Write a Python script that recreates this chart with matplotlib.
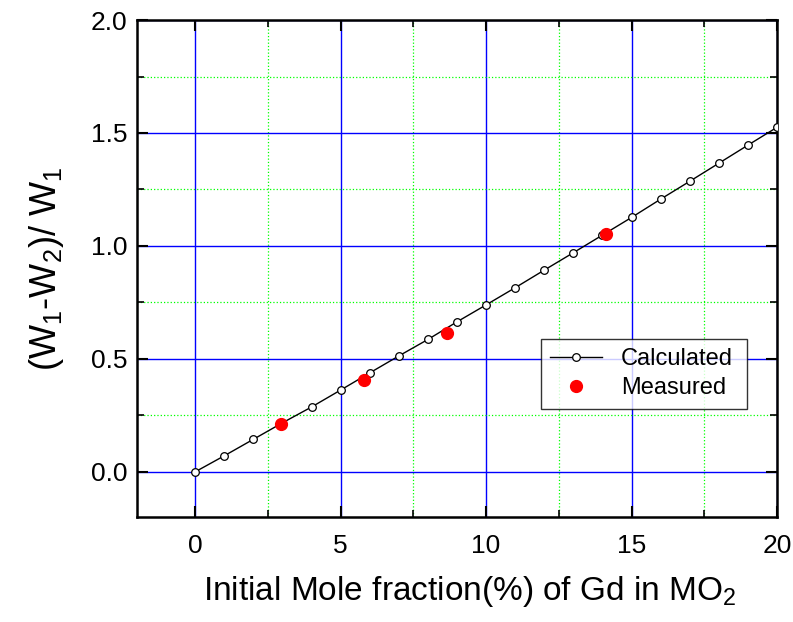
import matplotlib
matplotlib.use('Agg')
import matplotlib.pyplot as plt
from matplotlib.ticker import MultipleLocator

plt.rcParams['font.family'] = ['Liberation Sans', 'DejaVu Sans']
plt.rcParams['mathtext.fontset'] = 'custom'
plt.rcParams['mathtext.rm'] = 'Liberation Sans'
plt.rcParams['mathtext.it'] = 'Liberation Sans'

# calculated curve (integer mole fractions)
calc_x = [0, 1, 2, 3, 4, 5, 6, 7, 8, 9, 10, 11, 12, 13, 14, 15, 16, 17, 18, 19, 20]
calc_y = [0.0, 0.071, 0.144, 0.217, 0.287, 0.362, 0.438, 0.513, 0.586, 0.664, 0.739,
          0.815, 0.893, 0.970, 1.048, 1.126, 1.207, 1.286, 1.366, 1.446, 1.525]

# measured points
meas_x = [2.94, 5.81, 8.64, 14.12]
meas_y = [0.211, 0.408, 0.615, 1.054]

fig = plt.figure(figsize=(7.93, 6.22), dpi=100)
ax = fig.add_axes([0.1728, 0.1688, 0.807, 0.799])

ax.plot(calc_x, calc_y, color='black', lw=1, marker='o', markersize=5.5,
        markerfacecolor='white', markeredgecolor='black', markeredgewidth=0.9,
        label='Calculated', zorder=3)
ax.plot(meas_x, meas_y, ls='none', marker='o', markersize=8.5, color='#ff0000',
        label='Measured', zorder=4)

ax.set_xlim(-2, 20)
ax.set_ylim(-0.2, 2.0)
ax.xaxis.set_major_locator(MultipleLocator(5))
ax.xaxis.set_minor_locator(MultipleLocator(2.5))
ax.yaxis.set_major_locator(MultipleLocator(0.5))
ax.yaxis.set_minor_locator(MultipleLocator(0.25))
ax.yaxis.set_major_formatter(matplotlib.ticker.FormatStrFormatter('%.1f'))

ax.grid(which='major', color='#0000ff', lw=1, ls='-')
ax.grid(which='minor', color='#00ff00', lw=0.9, ls=':')
ax.set_axisbelow(True)

ax.tick_params(which='both', direction='in', top=True, right=True, labelsize=19)
ax.tick_params(which='major', length=8, width=1.5)
ax.tick_params(which='minor', length=5, width=1.2)
ax.tick_params(axis='x', pad=12)
ax.tick_params(axis='y', pad=7)
for s in ax.spines.values():
    s.set_linewidth(1.8)

ax.set_xlabel('Initial Mole fraction(%) of Gd in MO$_2$', fontsize=24)
ax.xaxis.set_label_coords(0.52, -0.115)
ax.set_ylabel('(W$_1$-W$_2$)/ W$_1$', fontsize=26, labelpad=18)

leg = ax.legend(loc='lower left', bbox_to_anchor=(0.631, 0.218, 0.322, 0.154), mode='expand',
                fontsize=17, frameon=True, fancybox=False, edgecolor='black',
                handlelength=2.2, borderaxespad=0, borderpad=0.4, labelspacing=0.3)
leg.get_frame().set_linewidth(1.0)

fig.savefig('out.png', dpi=100)
